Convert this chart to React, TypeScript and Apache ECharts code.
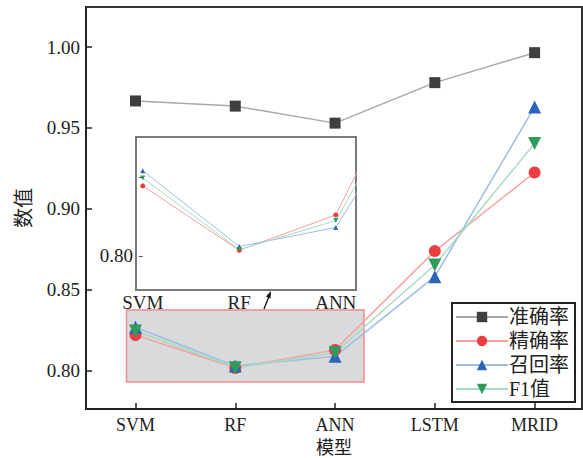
import React, { useEffect, useRef } from "react";
import * as echarts from "echarts";

const categories = ["SVM", "RF", "ANN", "LSTM", "MRID"];
const accuracy = [0.9667, 0.9635, 0.953, 0.978, 0.9965];
const precision = [0.8222, 0.8018, 0.813, 0.874, 0.9225];
const recall = [0.827, 0.803, 0.809, 0.8582, 0.963];
const f1 = [0.8247, 0.802, 0.8112, 0.8654, 0.9405];
const seriesNames = ["准确率", "精确率", "召回率", "F1值"];
const yTicks = [0.8, 0.85, 0.9, 0.95, 1.0];
const insetCats = [0, 1, 2];
const insetYTicks = [0.8, 0.825];
const insetYLabels = [0.8];

const FONT = "'Liberation Serif', 'Times New Roman', 'Noto Sans CJK SC', serif";
const TXT = "#222";

const styles = [
  { line: "#a9a9a9", mark: "#3f3f3f", symbol: "rect", size: 11 },
  { line: "#f4a2a2", mark: "#ec3d40", symbol: "circle", size: 12 },
  { line: "#9dbde6", mark: "#2b64bd", symbol: "triangle", size: 13 },
  { line: "#a6dcbc", mark: "#2f9c5e", symbol: "path://M0,0 L10,0 L5,9 Z", size: 13 },
];
const allData = [accuracy, precision, recall, f1];

export default function App() {
  const ref = useRef<HTMLDivElement>(null);
  useEffect(() => {
    if (!ref.current) return;
    const chart = echarts.init(ref.current, null, { renderer: "svg" });
    const toPts = (arr: number[]) => arr.map((v, i) => [i, v]);
    const mainSeries: any[] = allData.map((d, k) => ({
      name: seriesNames[k],
      type: "line",
      xAxisIndex: 0,
      yAxisIndex: 0,
      data: toPts(d),
      symbol: styles[k].symbol,
      symbolSize: styles[k].size,
      lineStyle: { color: styles[k].line, width: 1.5 },
      itemStyle: { color: styles[k].mark },
      z: 5,
    }));
    const insetSeries: any[] = allData.slice(1).map((d, j) => {
      const k = j + 1;
      return {
        name: seriesNames[k],
        type: "line",
        xAxisIndex: 1,
        yAxisIndex: 1,
        data: toPts(d),
        symbol: styles[k].symbol,
        symbolSize: 5,
        lineStyle: { color: styles[k].line, width: 1 },
        itemStyle: { color: styles[k].mark },
        z: 5,
        clip: true,
      };
    });
    const option: any = {
      animation: false,
      backgroundColor: "#fff",
      textStyle: { fontFamily: FONT, color: TXT },
      grid: [
        {
          left: 86, top: 7, width: 496, height: 402, outerBoundsMode: "none", containLabel: false,
          show: true, borderColor: "#333", borderWidth: 2, backgroundColor: "transparent",
        },
        {
          left: 136, top: 137, width: 220, height: 153, outerBoundsMode: "none", containLabel: false,
          show: true, borderColor: "#7a7a7a", borderWidth: 2, backgroundColor: "#fff",
        },
      ],
      xAxis: [
        {
          type: "value", gridIndex: 0, min: -0.496, max: 4.475,
          splitLine: { show: false },
          axisLine: { show: true, onZero: false, lineStyle: { color: "#222", width: 2 } },
          axisTick: { show: true, inside: true, length: 6, customValues: [0, 1, 2, 3, 4], lineStyle: { color: "#222", width: 1.5 } },
          axisLabel: {
            customValues: [0, 1, 2, 3, 4], margin: 7, fontSize: 18, color: TXT, fontFamily: FONT,
            formatter: (v: number) => categories[Math.round(v)],
          },
          name: "模型", nameLocation: "middle", nameGap: 30, nameMoveOverlap: false,
          nameTextStyle: { fontSize: 18, color: TXT, fontFamily: FONT },
        },
        {
          type: "value", gridIndex: 1, min: -0.07, max: 2.21, z: 10,
          splitLine: { show: false },
          axisLine: { show: false },
          axisTick: { show: false },
          axisLabel: {
            customValues: insetCats, margin: 3, fontSize: 19, color: TXT, fontFamily: FONT,
            formatter: (v: number) => categories[Math.round(v)],
          },
        },
      ],
      yAxis: [
        {
          type: "value", gridIndex: 0, min: 0.7765, max: 1.0247,
          splitLine: { show: false },
          axisLine: { show: true, onZero: false, lineStyle: { color: "#222", width: 2 } },
          axisTick: { show: true, inside: true, length: 6, customValues: yTicks, lineStyle: { color: "#222", width: 1.5 } },
          axisLabel: {
            customValues: yTicks, margin: 6, fontSize: 19, color: TXT, fontFamily: FONT,
            formatter: (v: number) => v.toFixed(2),
          },
          name: "数值", nameLocation: "middle", nameGap: 52, nameRotate: 90, nameMoveOverlap: false,
          nameTextStyle: { fontSize: 20, color: TXT, fontFamily: FONT },
        },
        {
          type: "value", gridIndex: 1, min: 0.7892, max: 0.8377, z: 10,
          splitLine: { show: false },
          axisLine: { show: false },
          axisTick: { show: true, inside: false, length: 4, customValues: insetYTicks, lineStyle: { color: "#555" } },
          axisLabel: {
            customValues: insetYLabels, margin: 3, fontSize: 19, color: TXT, fontFamily: FONT,
            formatter: (v: number) => v.toFixed(2),
          },
        },
      ],
      legend: {
        data: seriesNames,
        orient: "vertical",
        left: 452, top: 303,
        itemWidth: 52, itemHeight: 13, itemGap: 4,
        padding: [4, 6, 3, 3],
        borderColor: "#222", borderWidth: 2, backgroundColor: "#fff",
        textStyle: { fontSize: 20, color: TXT, fontFamily: FONT, padding: [0, 0, 0, -4] },
        selectedMode: false,
      },
      series: [
        {
          name: "highlight",
          type: "line",
          xAxisIndex: 0, yAxisIndex: 0,
          data: [],
          z: 1,
          markArea: {
            silent: true,
            itemStyle: { color: "#d9dadb", borderColor: "#f08c8c", borderWidth: 1.5 },
            data: [[{ coord: [-0.09, 0.8377] }, { coord: [2.29, 0.7932] }]],
          },
        },
        ...mainSeries,
        ...insetSeries,
      ],
      graphic: [
        { type: "line", shape: { x1: 264, y1: 309, x2: 269.5, y2: 295 }, style: { stroke: "#111", lineWidth: 1.3 }, z: 100 },
        { type: "polygon", shape: { points: [[271, 291], [270.6, 298.4], [266, 296.5]] }, style: { fill: "#111" }, z: 100 },
      ],
    };
    chart.setOption(option);
    return () => chart.dispose();
  }, []);
  return <div ref={ref} style={{ position: "fixed", left: 0, top: 0, width: 583, height: 458 }} />;
}
